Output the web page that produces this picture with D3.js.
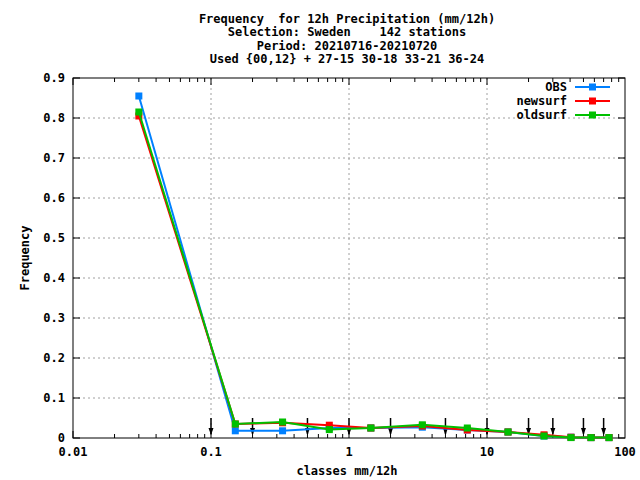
<!DOCTYPE html>
<html><head><meta charset="utf-8">
<script src="https://d3js.org/d3.v7.min.js"></script>
<style>body{margin:0;background:#fff}text{font-family:"DejaVu Sans Mono",monospace;font-weight:bold;font-size:12px}</style>
</head><body><svg id="c" width="640" height="480"></svg>
<script>
const titleLines = ['Frequency  for 12h Precipitation (mm/12h)', 'Selection: Sweden    142 stations', 'Period: 20210716-20210720', 'Used {00,12} + 27-15 30-18 33-21 36-24'];
const classes = [0.03, 0.15, 0.33, 0.72, 1.44, 3.4, 7.2, 14.2, 25.9, 40.6, 56.7, 76.6];
const obs = [0.855, 0.018, 0.018, 0.025, 0.025, 0.027, 0.020, 0.015, 0.005, 0.002, 0.001, 0.001];
const newsurf = [0.805, 0.035, 0.038, 0.032, 0.025, 0.030, 0.020, 0.015, 0.008, 0.002, 0.001, 0.001];
const oldsurf = [0.815, 0.035, 0.040, 0.021, 0.025, 0.033, 0.025, 0.015, 0.005, 0.001, 0.001, 0.001];
const limits = [0.1, 0.2, 0.5, 1, 2, 5, 10, 20, 30, 50, 70];
const yTicks = [0, 0.1, 0.2, 0.3, 0.4, 0.5, 0.6, 0.7, 0.8, 0.9];
const xTicks = [0.01, 0.1, 1, 10, 100];
const series = [
  {name: 'OBS', values: obs, color: '#0080ff'},
  {name: 'newsurf', values: newsurf, color: '#ff0000'},
  {name: 'oldsurf', values: oldsurf, color: '#00c000'}
];

const svg = d3.select('#c');
const L = 73, R = 625, T = 78, B = 438;
const x = d3.scaleLog().domain([0.01, 100]).range([L, R]);
const y = d3.scaleLinear().domain([0, 0.9]).range([B, T]);

// grid
yTicks.slice(1, -1).forEach(v => svg.append('line').attr('x1', L).attr('x2', R).attr('y1', y(v)).attr('y2', y(v))
  .attr('stroke', '#a0a0a0').attr('stroke-dasharray', '2,3'));
xTicks.slice(1, -1).forEach(v => svg.append('line').attr('x1', x(v)).attr('x2', x(v)).attr('y1', T).attr('y2', B)
  .attr('stroke', '#a0a0a0').attr('stroke-dasharray', '2,3'));

// frame + ticks
svg.append('rect').attr('x', L).attr('y', T).attr('width', R - L).attr('height', B - T)
  .attr('fill', 'none').attr('stroke', '#000');
yTicks.forEach(v => {
  svg.append('line').attr('x1', L).attr('x2', L + 7).attr('y1', y(v)).attr('y2', y(v)).attr('stroke', '#000');
  svg.append('line').attr('x1', R).attr('x2', R - 7).attr('y1', y(v)).attr('y2', y(v)).attr('stroke', '#000');
  svg.append('text').attr('x', 65).attr('y', y(v) + 4).attr('text-anchor', 'end').text(v === 0 ? '0' : v.toFixed(1));
});
for (let d = 0.01; d < 100; d *= 10) {
  for (let k = 1; k < 10; k++) {
    const v = d * k, len = k === 1 ? 7 : 4;
    svg.append('line').attr('x1', x(v)).attr('x2', x(v)).attr('y1', B).attr('y2', B - len).attr('stroke', '#000');
    svg.append('line').attr('x1', x(v)).attr('x2', x(v)).attr('y1', T).attr('y2', T + len).attr('stroke', '#000');
  }
}
xTicks.forEach(v => svg.append('text').attr('x', x(v)).attr('y', 456).attr('text-anchor', 'middle').text(String(v)));

// class limit arrows
limits.forEach(v => {
  const g = svg.append('g');
  g.append('line').attr('x1', x(v)).attr('x2', x(v)).attr('y1', 418).attr('y2', 434).attr('stroke', '#000').attr('stroke-width', 1.5);
  g.append('path').attr('d', `M${x(v) - 2.5},428L${x(v) + 2.5},428L${x(v)},435Z`).attr('fill', '#000');
});

// series
const line = d3.line().x((d, i) => x(classes[i])).y(d => y(d));
series.forEach(s => {
  svg.append('path').datum(s.values).attr('d', line).attr('fill', 'none').attr('stroke', s.color).attr('stroke-width', 2);
  svg.selectAll(null).data(s.values).enter().append('rect')
    .attr('x', (d, i) => x(classes[i]) - 3.5).attr('y', d => y(d) - 3.5).attr('width', 7).attr('height', 7).attr('fill', s.color);
});

// legend
series.forEach((s, i) => {
  const ly = 87 + i * 14;
  svg.append('text').attr('x', 567).attr('y', ly + 4).attr('text-anchor', 'end').text(s.name);
  svg.append('line').attr('x1', 575).attr('x2', 610).attr('y1', ly).attr('y2', ly).attr('stroke', s.color).attr('stroke-width', 2);
  svg.append('rect').attr('x', 589).attr('y', ly - 3.5).attr('width', 7).attr('height', 7).attr('fill', s.color);
});

// titles
titleLines.forEach((t, i) => svg.append('text').attr('x', 347).attr('y', 23 + i * 13.3).attr('text-anchor', 'middle')
  .attr('xml:space', 'preserve').style('white-space', 'pre').text(t));
svg.append('text').attr('x', 347).attr('y', 475).attr('text-anchor', 'middle').text('classes mm/12h');
svg.append('text').attr('transform', 'translate(29,258) rotate(-90)').attr('text-anchor', 'middle').text('Frequency');
</script></body></html>
